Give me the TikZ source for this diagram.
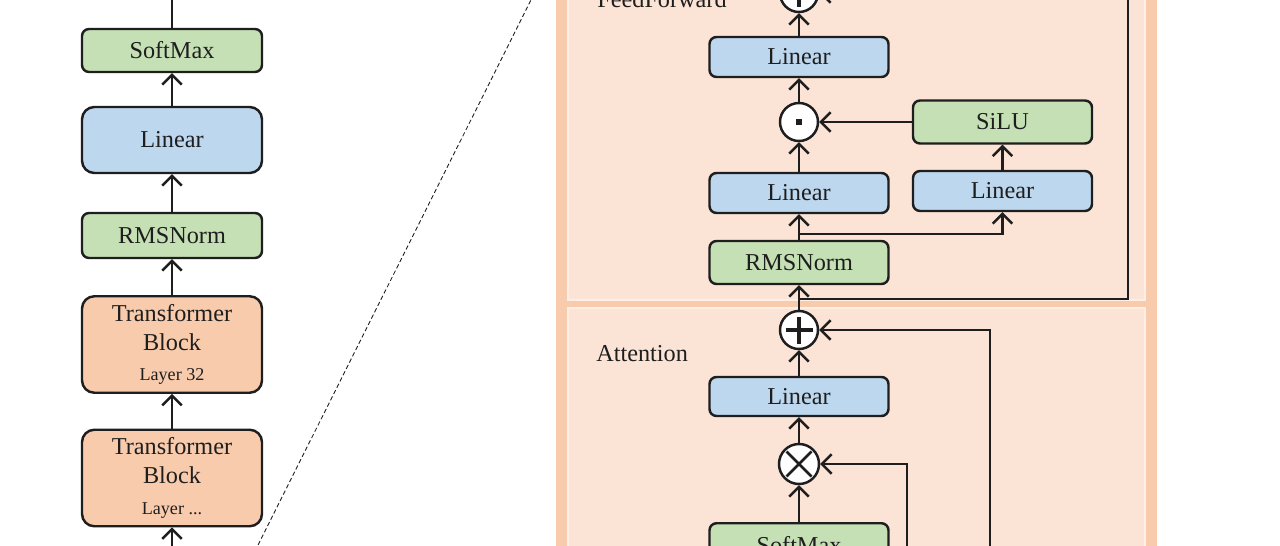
\documentclass[tikz,border=0pt]{standalone}
\usepackage{fontspec}
\setmainfont{Liberation Serif}
\definecolor{llBlue}{HTML}{BDD7EE}
\definecolor{llGreen}{HTML}{C5E0B4}
\definecolor{llOrange}{HTML}{F8CBAD}
\definecolor{llPanel}{HTML}{FBE3D5}
\definecolor{llEdge}{HTML}{FDEFE6}
\definecolor{llInk}{HTML}{1E1E1E}
\usetikzlibrary{arrows.meta}

\tikzset{
  box/.style={draw=llInk, line width=1.4pt, rounded corners=4pt, minimum width=3.58cm,
    inner sep=0pt, align=center, text=llInk, font=\fontsize{13.8}{16.5}\selectfont},
  linbox/.style={box, fill=llBlue},
  grnbox/.style={box, fill=llGreen},
  blkbox/.style={box, fill=llOrange, rounded corners=7pt, minimum width=3.6cm, minimum height=1.93cm},
  opnode/.style={circle, draw=llInk, line width=1.4pt, fill=white, minimum size=0.76cm, inner sep=0pt},
  plusop/.style={opnode, path picture={
    \draw[llInk, line width=2.4pt] ([xshift=-0.27cm]path picture bounding box.center) -- ([xshift=0.27cm]path picture bounding box.center)
      ([yshift=-0.27cm]path picture bounding box.center) -- ([yshift=0.27cm]path picture bounding box.center);}},
  timesop/.style={opnode, minimum size=0.8cm, path picture={
    \draw[llInk, line width=1.5pt] ([shift={(-0.25,-0.25)}]path picture bounding box.center) -- ([shift={(0.25,0.25)}]path picture bounding box.center)
      ([shift={(-0.25,0.25)}]path picture bounding box.center) -- ([shift={(0.25,-0.25)}]path picture bounding box.center);}},
  dotop/.style={opnode, path picture={
    \fill[llInk] ([shift={(-0.055,-0.055)}]path picture bounding box.center) rectangle ([shift={(0.055,0.055)}]path picture bounding box.center);}},
  arr/.style={draw=llInk, line width=1.4pt, -{Straight Barb[length=5.5pt,width=11pt,line width=1.4pt]}},
  lbl/.style={text=llInk, font=\fontsize{13.8}{16.5}\selectfont, inner sep=0pt},
}

\begin{document}
\begin{tikzpicture}
  \useasboundingbox (0,0) rectangle (25.6,10.9);
  \clip (0,0) rectangle (25.6,10.9);
  \fill[white] (0,0) rectangle (25.6,10.9);

  % left column
  \node[grnbox, minimum width=3.6cm, minimum height=0.86cm] (outsm) at (3.44,9.89) {SoftMax};
  \node[linbox, minimum width=3.6cm, minimum height=1.32cm, rounded corners=7pt] (outlin) at (3.44,8.10) {Linear};
  \node[grnbox, minimum width=3.6cm, minimum height=0.9cm] (outnorm) at (3.44,6.19) {RMSNorm};
  \node[blkbox] (blk32) at (3.44,4.01) {Transformer\\Block\\[1pt]{\fontsize{10.3}{12}\selectfont Layer 32}};
  \node[blkbox] (blkn) at (3.44,1.34) {Transformer\\Block\\[1pt]{\fontsize{10.3}{12}\selectfont Layer ...}};
  \coordinate (outtop) at (3.44,11.2);
  \coordinate (inbot) at (3.44,-0.3);
  \draw[arr] (inbot) -- (blkn.south);
  \foreach \a/\b in {blkn/blk32, blk32/outnorm, outnorm/outlin, outlin/outsm}
    \draw[arr] (\a.north) -- (\b.south);
  \draw[arr] (outsm.north) -- (outtop);

  % zoom line
  \coordinate (zoomlo) at (4.91,-0.5);
  \coordinate (zoomhi) at (10.87,11.4);
  \draw[llInk, line width=0.5pt, dash pattern=on 2.5pt off 1.5pt] (zoomlo) -- (zoomhi);

  % panels
  \fill[llOrange] (11.12,-0.5) rectangle (23.14,11.5);
  \draw[fill=llPanel, draw=llEdge, line width=1.2pt] (11.36,4.90) rectangle (22.90,11.5);
  \draw[fill=llPanel, draw=llEdge, line width=1.2pt] (11.36,-0.5) rectangle (22.90,4.74);

  % feed forward
  \node[plusop] (ffadd) at (15.98,11.04) {};
  \node[lbl, anchor=base west] (fflabel) at (11.94,10.74) {FeedForward};
  \node[linbox, minimum height=0.8cm] (ffw2) at (15.98,9.76) {Linear};
  \node[dotop] (ffmul) at (15.98,8.46) {};
  \node[grnbox, minimum height=0.86cm] (silu) at (20.05,8.46) {SiLU};
  \node[linbox, minimum height=0.8cm] (ffw1) at (15.98,7.04) {Linear};
  \node[linbox, minimum height=0.8cm] (ffw3) at (20.05,7.08) {Linear};
  \node[grnbox, minimum height=0.86cm] (ffnorm) at (15.98,5.65) {RMSNorm};
  \coordinate (ffsplit) at (15.98,6.22);
  \coordinate (ffres) at (15.98,4.92);
  \coordinate (ffcorner) at (22.56,4.92);

  \draw[arr] (ffnorm.north) -- (ffw1.south);
  \draw[arr] (ffsplit) -| (ffw3.south);
  \draw[arr] (ffw3.north) -- (silu.south);
  \draw[arr] (silu.west) -- (ffmul.east);
  \draw[arr] (ffw1.north) -- (ffmul.south);
  \draw[arr] (ffmul.north) -- (ffw2.south);
  \draw[arr] (ffw2.north) -- (ffadd.south);
  \draw[arr] (ffres) -- (ffcorner) |- (ffadd.east);

  % attention
  \node[plusop] (attadd) at (15.98,4.30) {};
  \node[lbl, anchor=base west] (attlabel) at (11.92,3.68) {Attention};
  \node[linbox, minimum height=0.78cm] (attlin) at (15.98,2.97) {Linear};
  \node[timesop] (attmul) at (15.98,1.62) {};
  \node[grnbox, minimum height=0.86cm, anchor=north] (attsm) at (15.98,0.46) {SoftMax};
  \coordinate (vin) at (18.14,-0.5);
  \coordinate (resin) at (19.80,-0.5);

  \draw[arr] (attsm.north) -- (attmul.south);
  \draw[arr] (vin) |- (attmul.east);
  \draw[arr] (attmul.north) -- (attlin.south);
  \draw[arr] (attlin.north) -- (attadd.south);
  \draw[arr] (resin) |- (attadd.east);
  \draw[arr] (attadd.north) -- (ffnorm.south);
\end{tikzpicture}
\end{document}
